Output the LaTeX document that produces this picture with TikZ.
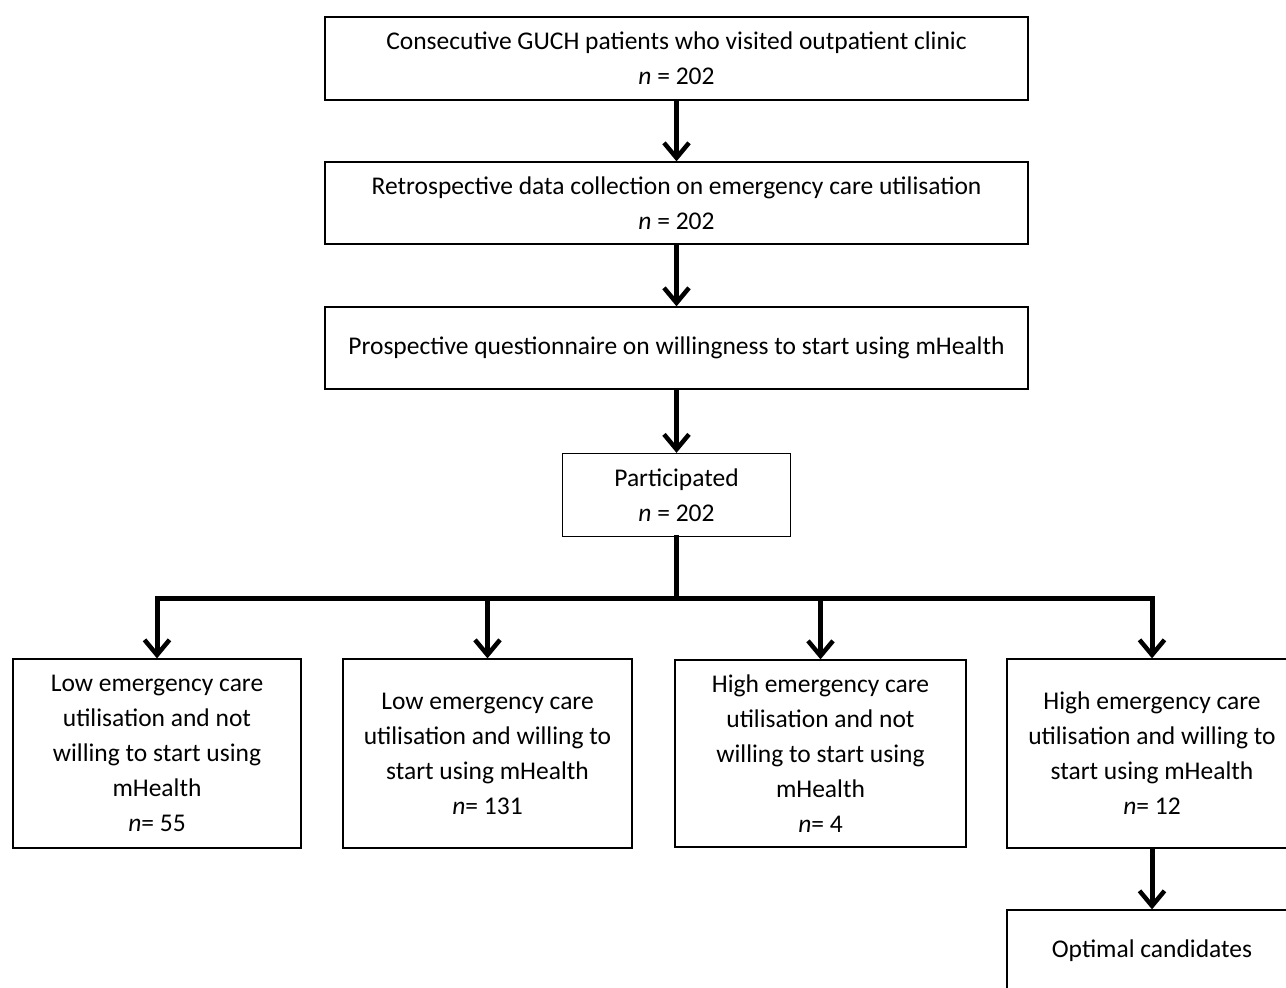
\documentclass[tikz,border=0pt]{standalone}
\usepackage{fontspec}
\setmainfont{Carlito}
\usetikzlibrary{arrows.meta,positioning}

\tikzset{
  box/.style={draw, line width=1.3pt, align=center, inner sep=0pt,
    font=\fontsize{25.5}{35}\selectfont},
  flow/.style={line width=5pt,
    -{Straight Barb[length=15pt,width=25pt,line width=4.5pt]}},
  bar/.style={line width=5pt, line cap=rect},
}

\begin{document}
\begin{tikzpicture}[x=1pt,y=-1pt]
  \useasboundingbox (0,0) rectangle (1286,988);
  \clip (0,0) rectangle (1286,988);
  % Top column
  \node[box, minimum width=703, minimum height=83] (guch) at (676.5,58.5)
    {Consecutive GUCH patients who visited outpatient clinic\\ \textit{n} = 202};
  \node[box, minimum width=703, minimum height=82] (retro) at (676.5,203)
    {Retrospective data collection on emergency care utilisation\\ \textit{n} = 202};
  \node[box, minimum width=703, minimum height=82] (quest) at (676.5,348)
    {Prospective questionnaire on willingness to start using mHealth};
  \node[box, minimum width=228, minimum height=83] (part) at (676.5,495)
    {Participated\\ \textit{n} = 202};
  \coordinate (split) at (676.5,598);
  % Groups
  \node[box, minimum width=288, minimum height=189] (lowno) at (157,753.5)
    {Low emergency care\\ utilisation and not\\ willing to start using\\ mHealth\\ \textit{n}= 55};
  \node[box, minimum width=289, minimum height=189] (lowyes) at (487.5,753.5)
    {Low emergency care\\ utilisation and willing to\\ start using mHealth\\ \textit{n}= 131};
  \node[box, minimum width=291, minimum height=187] (highno) at (820.5,753.5)
    {High emergency care\\ utilisation and not\\ willing to start using\\ mHealth\\ \textit{n}= 4};
  \node[box, minimum width=290, minimum height=189] (highyes) at (1152,753.5)
    {High emergency care\\ utilisation and willing to\\ start using mHealth\\ \textit{n}= 12};
  \node[box, minimum width=290, minimum height=82] (optimal) at (1152,951)
    {Optimal candidates};
  % Arrows
  \draw[flow] (guch) -- (retro);
  \draw[flow] (retro) -- (quest);
  \draw[flow] (quest) -- (part);
  \draw[bar] (part) -- (split);
  \draw[bar] (lowno.north |- split) -- (highyes.north |- split);
  \foreach \grp in {lowno,lowyes,highno,highyes}
    \draw[flow] (\grp.north |- split) -- (\grp);
  \draw[flow] (highyes) -- (optimal);
\end{tikzpicture}
\end{document}
